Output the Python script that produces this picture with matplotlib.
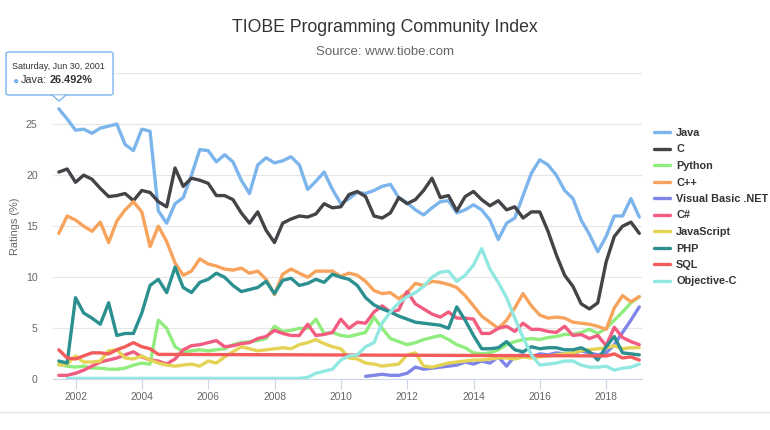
import numpy as np
import pandas as pd
import matplotlib
matplotlib.use('Agg')
import matplotlib.pyplot as plt
from matplotlib.patches import FancyBboxPatch, Polygon
from matplotlib.lines import Line2D

plt.rcParams['font.family'] = ['Liberation Sans', 'DejaVu Sans']

# quarterly readings, Jun 2001 .. Dec 2018 (71 points)
dates = pd.date_range('2001-06-30', '2018-12-31', freq='QE')

java = [26.492, 25.5, 24.4, 24.5, 24.1, 24.6, 24.8, 25.0, 23.0, 22.4,
        24.5, 24.3, 16.5, 15.3, 17.2, 17.8, 20.0, 22.5, 22.4, 21.3,
        22.0, 21.3, 19.5, 18.2, 21.0, 21.7, 21.2, 21.4, 21.8, 21.0,
        18.6, 19.4, 20.3, 18.6, 17.2, 17.7, 18.3, 18.2, 18.5, 18.9,
        19.1, 17.8, 17.3, 16.6, 16.1, 16.8, 17.4, 17.5, 16.3, 16.6,
        17.1, 16.6, 15.6, 13.7, 15.3, 15.8, 18.0, 20.2, 21.5, 21.0,
        20.0, 18.5, 17.7, 15.6, 14.2, 12.5, 14.0, 16.0, 16.0, 17.7,
        15.9]
c_lang = [20.3, 20.6, 19.3, 20.0, 19.6, 18.7, 17.9, 18.0, 18.2, 17.5,
          18.5, 18.3, 17.4, 16.9, 20.7, 18.9, 19.7, 19.5, 19.2, 18.0,
          18.0, 17.6, 16.3, 15.3, 16.4, 14.6, 13.4, 15.3, 15.7, 16.0,
          15.9, 16.2, 17.2, 16.8, 16.9, 18.1, 18.4, 17.9, 16.0, 15.8,
          16.3, 17.8, 17.2, 17.6, 18.5, 19.7, 17.8, 18.0, 16.5, 17.9,
          18.4, 17.6, 17.0, 17.5, 16.6, 16.9, 15.8, 16.4, 16.4, 14.5,
          12.2, 10.2, 9.1, 7.4, 6.9, 7.5, 11.5, 14.0, 15.0, 15.4,
          14.3]
python = [1.5, 1.3, 1.2, 1.3, 1.1, 1.1, 1.0, 1.0, 1.1, 1.4,
          1.6, 1.5, 5.8, 5.0, 3.2, 2.7, 2.8, 2.9, 2.8, 2.9,
          3.0, 3.4, 3.6, 3.7, 3.8, 4.0, 5.2, 4.7, 4.8, 5.0,
          5.0, 5.9, 4.5, 4.6, 4.3, 4.2, 4.4, 4.6, 6.1, 5.0,
          4.0, 3.7, 3.4, 3.6, 3.9, 4.1, 4.3, 3.9, 3.4, 3.1,
          2.6, 2.5, 2.6, 2.9, 3.4, 3.7, 3.9, 4.0, 3.9, 4.1,
          4.2, 4.4, 4.4, 4.6, 4.9, 4.5, 5.0, 5.8, 6.6, 7.5,
          8.1]
cpp = [14.3, 16.0, 15.6, 15.0, 14.5, 15.4, 13.4, 15.5, 16.6, 17.4,
       16.4, 13.0, 15.0, 13.5, 11.4, 10.2, 10.6, 11.8, 11.3, 11.1,
       10.8, 10.7, 10.9, 10.4, 10.6, 9.8, 8.3, 10.3, 10.8, 10.4,
       10.0, 10.6, 10.6, 10.6, 10.1, 10.4, 10.2, 9.6, 8.7, 8.4,
       8.5, 7.9, 8.5, 9.4, 9.2, 9.6, 9.5, 9.3, 9.0, 8.2,
       7.2, 6.2, 5.6, 5.0, 5.8, 7.0, 8.4, 7.2, 6.3, 6.0,
       6.1, 6.0, 5.6, 5.5, 5.4, 5.2, 4.9, 7.0, 8.2, 7.6,
       8.1]
vbnet = [None] * 37 + [
    0.3, 0.4, 0.5, 0.4, 0.4, 0.6, 1.2, 1.0, 1.1, 1.2,
    1.3, 1.4, 1.7, 1.5, 1.8, 1.6, 2.2, 1.3, 2.3, 2.4,
    2.2, 2.5, 2.4, 2.6, 2.5, 2.5, 2.8, 2.6, 2.4, 2.6,
    3.4, 4.6, 5.8, 7.1]
csharp = [0.4, 0.4, 0.6, 0.9, 1.3, 1.7, 1.9, 2.1, 2.4, 2.7,
          2.2, 1.9, 1.8, 1.5, 2.0, 2.9, 3.3, 3.4, 3.6, 3.8,
          3.2, 3.3, 3.5, 3.6, 4.0, 4.2, 4.8, 4.5, 4.3, 4.3,
          5.4, 4.3, 4.4, 4.6, 5.9, 5.0, 5.6, 5.5, 6.6, 7.2,
          6.6, 6.8, 8.6, 7.4, 6.9, 6.4, 6.1, 6.6, 6.0, 6.0,
          5.9, 4.5, 4.5, 5.0, 5.2, 4.7, 5.5, 4.9, 4.9, 4.7,
          4.6, 5.2, 4.3, 4.4, 4.0, 4.3, 3.3, 5.1, 4.1, 3.7,
          3.4]
javascript = [1.4, 1.5, 2.3, 1.7, 1.7, 1.8, 2.8, 2.9, 2.1, 2.0,
              2.3, 1.9, 1.6, 1.4, 1.3, 1.4, 1.5, 1.3, 1.8, 1.6,
              2.2, 2.7, 3.2, 3.0, 2.8, 2.9, 3.0, 3.1, 3.0, 3.4,
              3.6, 3.9, 3.5, 3.2, 3.0, 2.1, 2.0, 1.6, 1.5, 1.3,
              1.4, 1.5, 2.4, 2.6, 1.3, 1.2, 1.4, 1.6, 1.7, 1.8,
              1.9, 1.9, 2.0, 2.1, 2.1, 2.0, 2.2, 2.1, 2.2, 2.3,
              2.4, 2.5, 2.6, 2.8, 2.9, 3.0, 3.1, 3.3, 3.0, 3.1,
              3.1]
php = [1.8, 1.6, 8.0, 6.5, 6.0, 5.4, 7.5, 4.3, 4.5, 4.5,
       6.5, 9.2, 9.8, 8.5, 11.0, 9.0, 8.5, 9.5, 9.8, 10.4,
       10.0, 9.2, 8.6, 8.8, 9.0, 9.6, 8.4, 9.7, 9.9, 9.2,
       9.4, 9.8, 9.5, 10.3, 10.0, 9.8, 9.2, 8.0, 7.3, 6.9,
       6.6, 6.2, 5.9, 5.6, 5.5, 5.4, 5.3, 5.0, 7.1, 5.8,
       4.3, 3.0, 3.0, 3.1, 3.7, 2.9, 2.7, 3.2, 3.0, 3.1,
       3.1, 2.9, 2.9, 3.1, 2.7, 1.9, 3.2, 4.2, 2.6, 2.5,
       2.4]
# SQL left the index in 2004 and came back in 2018; the gap is joined
sql = [2.9, 2.1, 2.0, 2.3, 2.6, 2.6, 2.5, 2.9, 3.2, 3.6,
       3.2, 3.0, 2.45] + [None] * 53 + [2.3, 2.5, 2.1, 2.2, 1.9]
objc = [None,
        0.1, 0.1, 0.1, 0.1, 0.1, 0.1, 0.1, 0.1, 0.1, 0.1,
        0.1, 0.1, 0.1, 0.1, 0.1, 0.1, 0.1, 0.1, 0.1, 0.1,
        0.1, 0.1, 0.1, 0.1, 0.1, 0.1, 0.1, 0.1,
        0.1, 0.2, 0.6, 0.8, 1.0, 1.9, 2.3, 2.4, 3.2, 3.6,
        5.5, 6.6, 7.5, 8.1, 8.5, 9.1, 10.0, 10.5, 10.6, 9.6,
        10.2, 11.2, 12.8, 10.8, 9.5, 8.0, 6.0, 4.1, 2.4, 1.4,
        1.5, 1.6, 1.8, 1.8, 1.4, 1.2, 1.2, 1.3, 0.9, 1.1,
        1.2, 1.5]

names = ['Java', 'C', 'Python', 'C++', 'Visual Basic .NET', 'C#',
         'JavaScript', 'PHP', 'SQL', 'Objective-C']
values = [java, c_lang, python, cpp, vbnet, csharp, javascript, php, sql, objc]
colors = ['#7cb5ec', '#434348', '#90ed7d', '#f7a35c', '#8085e9', '#f15c80',
          '#e4d354', '#2b908f', '#f45b5b', '#91e8e1']
year_ticks = list(range(2002, 2019, 2))
rating_ticks = list(range(0, 31, 5))

W, H = 770, 430

def fx(px):
    return px / W

def fy(py):
    return 1 - py / H

fig = plt.figure(figsize=(W / 100, H / 100), dpi=100)
ax = fig.add_axes([fx(53), fy(379.4), fx(642) - fx(53), fy(73) - fy(379.4)])

handles = []
for name, vals, col in zip(names, values, colors):
    v = np.array([np.nan if x is None else x for x in vals], dtype=float)
    assert len(v) == len(dates), name
    m = ~np.isnan(v)
    ln, = ax.plot(dates[m], v[m], color=col, lw=2.4, label=name,
                  solid_joinstyle='round', solid_capstyle='round')
    handles.append(ln)

ax.set_ylim(0, 30)
ax.set_yticks(rating_ticks)
# the top label sits under the tooltip in the original
ax.set_yticklabels([str(t) if t < 30 else '' for t in rating_ticks])
ax.set_xlim(pd.Timestamp('2001-04-27'), pd.Timestamp('2019-01-30'))
ax.set_xticks(pd.to_datetime([f'{y}-01-01' for y in year_ticks]))
ax.set_xticklabels([str(y) for y in year_ticks])

ax.grid(axis='y', color='#e6e6e6', lw=0.8)
ax.set_axisbelow(True)
for s in ['top', 'right', 'left']:
    ax.spines[s].set_visible(False)
ax.spines['bottom'].set_color('#ccd6eb')
ax.spines['bottom'].set_linewidth(0.8)
ax.tick_params(axis='y', length=0, pad=11, labelsize=7.6, labelcolor='#666666')
ax.tick_params(axis='x', length=7, width=0.8, color='#ccd6eb', pad=2,
               labelsize=7.4, labelcolor='#666666')

fig.text(fx(15), fy(226.5), 'Ratings (%)', rotation=90, ha='center',
         va='center', fontsize=7.9, color='#666666')
fig.text(0.5, fy(27), 'TIOBE Programming Community Index', ha='center',
         va='center', fontsize=12.7, color='#333333')
fig.text(0.5, fy(52), 'Source: www.tiobe.com', ha='center', va='center',
         fontsize=9.5, color='#666666')

leg = fig.legend(handles=handles, loc='upper left',
                 bbox_to_anchor=(fx(654), fy(128)), frameon=False,
                 borderaxespad=0, borderpad=0, handlelength=1.5,
                 handletextpad=0.55, labelspacing=0.6,
                 prop={'size': 7.8, 'weight': 'bold'})
for t in leg.get_texts():
    t.set_color('#333333')

# tooltip over the first Java point
box = FancyBboxPatch((fx(6), fy(95)), fx(113) - fx(6), fy(52) - fy(95),
                     boxstyle='round,pad=0,rounding_size=0.004',
                     transform=fig.transFigure, facecolor='white',
                     edgecolor='#7cb5ec', lw=1, zorder=5)
fig.patches.append(box)
tri = Polygon([(fx(52), fy(95.5)), (fx(59), fy(101)), (fx(66), fy(95.5))],
              closed=True, transform=fig.transFigure, facecolor='white',
              edgecolor='none', zorder=6)
fig.patches.append(tri)
fig.lines.append(Line2D([fx(52), fx(59), fx(66)], [fy(95), fy(101), fy(95)],
                        transform=fig.transFigure, color='#7cb5ec', lw=1,
                        zorder=7))
fig.text(fx(12), fy(66.5), 'Saturday, Jun 30, 2001', ha='left', va='center',
         fontsize=6.5, color='#333333', zorder=8)
fig.text(fx(12), fy(80.5), '\u25cf', ha='left', va='center', fontsize=7.5,
         color='#7cb5ec', zorder=8)
fig.text(fx(21), fy(80), 'Java:', ha='left', va='center', fontsize=7.8,
         color='#333333', zorder=8)
fig.text(fx(50), fy(80), '26.492%', ha='left', va='center', fontsize=7.8,
         color='#333333', weight='bold', zorder=8)

fig.lines.append(Line2D([0, 1], [fy(412), fy(412)], transform=fig.transFigure,
                        color='#e6e6e6', lw=1))

fig.savefig('out.png', dpi=100)
